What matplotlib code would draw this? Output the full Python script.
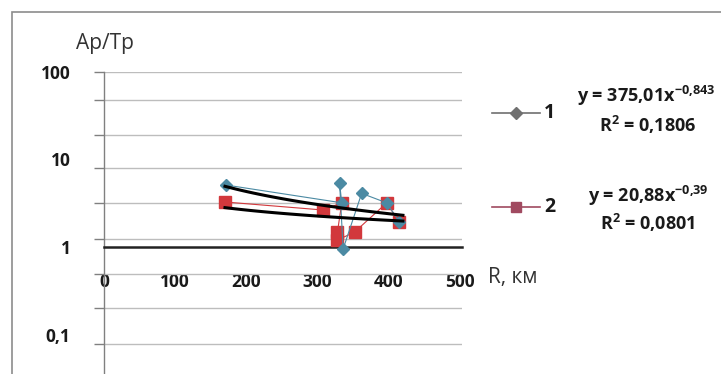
import matplotlib
matplotlib.use("Agg")
import matplotlib.pyplot as plt
import numpy as np
from matplotlib.lines import Line2D
from matplotlib.patches import Rectangle
from matplotlib.ticker import FixedLocator, NullFormatter

FONT = 'Open Sans'
plt.rcParams['font.family'] = [FONT, 'DejaVu Sans']
plt.rcParams['mathtext.fontset'] = 'custom'
plt.rcParams['mathtext.rm'] = FONT + ':bold'
plt.rcParams['mathtext.bf'] = FONT + ':bold'
plt.rcParams['mathtext.default'] = 'regular'

# ---- data ----
r1 = [172, 334, 331, 336, 362, 397, 415]
v1 = [5.1, 3.2, 5.4, 0.95, 4.1, 3.2, 1.95]
r2 = [170, 307, 334, 328, 328, 352, 397, 415]
v2 = [3.27, 2.65, 3.18, 1.48, 1.2, 1.48, 3.18, 1.93]
fit1 = (375.01, -0.843)
fit2 = (20.88, -0.39)
series_names = ['1', '2']
eq_texts = [(r'y = 375,01x$^{-0{,}843}$', r'R$^{2}$ = 0,1806'),
            (r'y = 20,88x$^{-0{,}39}$', r'R$^{2}$ = 0,0801')]
x_ticks = [0, 100, 200, 300, 400, 500]
y_ticks = [100, 10, 1, 0.1]
y_tick_labels = ['100', '10', '1', '0,1']
grid_logs = [2.0, 1.68, 1.28, 0.903, 0.503, 0.091, -0.309, -0.697, -1.109]

W, H = 721, 374
fig = plt.figure(figsize=(W / 100, H / 100), dpi=100)

def fx(x):
    return x / W

def fy(y):
    return 1 - y / H

# axes geometry in pixels
left_px, right_px = 104, 462
ymin_log, ymax_log = -1.5, 2.005
dec_px = 87.5
top_px = 247 - ymax_log * dec_px
bottom_px = 247 - ymin_log * dec_px
ax = fig.add_axes([fx(left_px), fy(bottom_px), (right_px - left_px) / W,
                   (bottom_px - top_px) / H])
ax.set_yscale('log')
ax.set_ylim(10 ** ymin_log, 10 ** ymax_log)
ax.set_xlim(0, 503)

for s in ['top', 'right']:
    ax.spines[s].set_visible(False)
ax.spines['left'].set_color('#808080')
ax.spines['left'].set_linewidth(1)
ax.spines['bottom'].set_position(('data', 1))
ax.spines['bottom'].set_color('#222222')
ax.spines['bottom'].set_linewidth(1.8)

grid_color = '#bdbdbd'
ax.yaxis.remove_overlapping_locs = False
ax.yaxis.set_major_locator(FixedLocator(y_ticks))
ax.set_yticklabels(y_tick_labels)
ax.yaxis.set_minor_locator(FixedLocator([10 ** g for g in grid_logs]))
ax.yaxis.set_minor_formatter(NullFormatter())
ax.tick_params(axis='y', which='major', length=0, pad=24, labelsize=12.5,
               labelcolor='#1a1a1a')
ax.tick_params(axis='y', which='minor', length=7, width=1, color='#808080')
ax.grid(True, which='minor', axis='y', color=grid_color, lw=1)
ax.grid(False, which='major')

ax.set_xticks(x_ticks)
ax.set_xticklabels([str(t) for t in x_ticks])
ax.tick_params(axis='x', length=0, pad=19, labelsize=12.5, labelcolor='#1a1a1a')
for lbl in ax.get_xticklabels() + ax.get_yticklabels():
    lbl.set_fontweight('bold')

c1 = '#4b8aa3'
c2 = '#d2383c'
ax.plot(r2, v2, color=c2, lw=0.8, marker='s', ms=8.5, mec=c2, mfc=c2, zorder=3)
ax.plot(r1, v1, color=c1, lw=0.8, marker='D', ms=6, mec=c1, mfc=c1, zorder=3)

xs = np.linspace(170, 420, 50)
for a, b in (fit1, fit2):
    ax.plot(xs, a * xs ** b, color='black', lw=2.2, zorder=4)

# axis titles
fig.text(fx(76), fy(44), 'Ap/Tp', fontsize=15, color='#333333', va='center', ha='left')
fig.text(fx(488), fy(277), 'R, км', fontsize=15, color='#333333', va='center', ha='left')

# legend (manual)
leg_cols = ['#707070', '#a04a60']
leg_marks = ['D', 's']
leg_ys = [113, 207]
for name, col, mk, yy in zip(series_names, leg_cols, leg_marks, leg_ys):
    fig.add_artist(Line2D([fx(492), fx(540)], [fy(yy), fy(yy)], color=col, lw=1.2,
                          transform=fig.transFigure))
    fig.add_artist(Line2D([fx(516)], [fy(yy)], color=col, marker=mk,
                          ms=6 if mk == 'D' else 7, transform=fig.transFigure))
    fig.text(fx(544), fy(yy), name, fontsize=14, fontweight='bold', color='#1a1a1a',
             va='center', ha='left')

eq_pos = [((646, 96), (648, 125)), ((648, 196), (648, 223))]
for (t1, t2), ((x1, y1), (x2, y2)) in zip(eq_texts, eq_pos):
    fig.text(fx(x1), fy(y1), t1, fontsize=13, fontweight='bold', color='#1a1a1a',
             ha='center', va='center')
    fig.text(fx(x2), fy(y2), t2, fontsize=13, fontweight='bold', color='#1a1a1a',
             ha='center', va='center')

# chart border
fig.add_artist(Rectangle((fx(12), fy(400)), 1.0, fy(12) - fy(400), fill=False,
                         edgecolor='#8c8c8c', lw=1.2, transform=fig.transFigure))

fig.savefig('out.png', dpi=100)
